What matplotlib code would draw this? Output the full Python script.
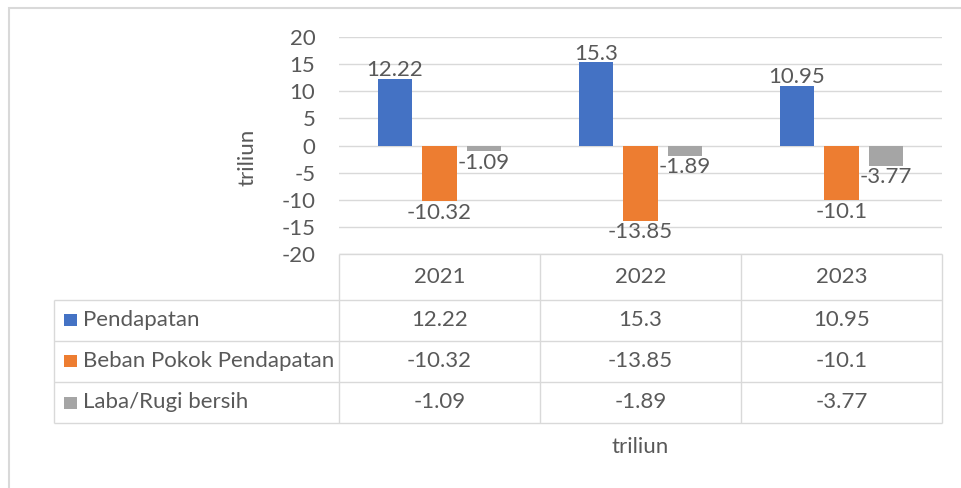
import numpy as np
import matplotlib
matplotlib.use('Agg')
import matplotlib.pyplot as plt
from matplotlib.patches import Rectangle

# data (triliun)
years = ['2021', '2022', '2023']
series = ['Pendapatan', 'Beban Pokok Pendapatan', 'Laba/Rugi bersih']
pendapatan = [12.22, 15.3, 10.95]
beban_pokok = [-10.32, -13.85, -10.1]
laba_rugi = [-1.09, -1.89, -3.77]
colors = ['#4472C4', '#ED7D31', '#A5A5A5']

plt.rcParams['font.family'] = ['Lato', 'DejaVu Sans']
plt.rcParams['axes.unicode_minus'] = False
txt_c = '#595959'
grid_c = '#D9D9D9'
fs = 16

W, H = 962, 488
fig = plt.figure(figsize=(W / 100, H / 100), dpi=100)


def box(l, t, r, b):
    # pixel box -> figure fraction [left, bottom, width, height]
    return [l / W, 1 - b / H, (r - l) / W, (b - t) / H]


# layout in pixels
plot_l, plot_r, plot_t, plot_b = 339, 942, 37, 254
tab_l = 54
head_h, row_h = 46, 41

ax = fig.add_axes(box(plot_l, plot_t, plot_r, plot_b))
values = [pendapatan, beban_pokok, laba_rugi]
x = np.arange(len(years))
bw = 0.174
step = 0.2214
for i, (name, vals, c) in enumerate(zip(series, values, colors)):
    xs = x + (i - 1) * step
    ax.bar(xs, vals, bw, color=c, label=name, zorder=2)
    for xi, v in zip(xs, vals):
        ax.annotate(f'{v:g}', (xi, v), xytext=(0, 2 if v > 0 else -1),
                    textcoords='offset points', ha='center',
                    va='baseline' if v > 0 else 'top', fontsize=fs, color=txt_c,
                    zorder=3)

ax.set_xlim(-0.5, len(years) - 0.5)
ax.set_ylim(-20, 20)
ax.set_yticks(range(-20, 21, 5))
ax.set_xticks([])
ax.grid(axis='y', color=grid_c, lw=1.0, zorder=0)
for s in ax.spines.values():
    s.set_visible(False)
ax.tick_params(axis='y', length=0, pad=17, labelsize=fs, labelcolor=txt_c)

# data table under the plot, drawn in pixel units
col_w = (plot_r - plot_l) / len(years)
xe = [tab_l, plot_l] + [plot_l + col_w * (k + 1) for k in range(len(years))]
ye = [plot_b, plot_b + head_h] + [plot_b + head_h + row_h * (k + 1) for k in range(len(series))]
tax = fig.add_axes(box(tab_l, plot_b, plot_r, ye[-1]))
tax.set_xlim(tab_l, plot_r)
tax.set_ylim(ye[-1], plot_b)
tax.axis('off')
kw = dict(color=grid_c, lw=1.0, clip_on=False)
tax.hlines(ye[0], plot_l, plot_r, **kw)
tax.hlines(ye[1:], tab_l, plot_r, **kw)
tax.vlines(xe[0], ye[1], ye[-1], **kw)
tax.vlines(xe[1:], ye[0], ye[-1], **kw)

xc = [(xe[k + 1] + xe[k + 2]) / 2 for k in range(len(years))]
yc_head = (ye[0] + ye[1]) / 2
for j, yr in enumerate(years):
    tax.text(xc[j], yc_head, yr, ha='center', va='center', fontsize=fs, color=txt_c)
for i, (name, vals, c) in enumerate(zip(series, values, colors)):
    yc = (ye[i + 1] + ye[i + 2]) / 2
    tax.add_patch(Rectangle((tab_l + 10, yc - 6), 13, 12, color=c, lw=0, clip_on=False))
    tax.text(tab_l + 29, yc, name, ha='left', va='center', fontsize=fs, color=txt_c)
    for j, v in enumerate(vals):
        tax.text(xc[j], yc, f'{v:g}', ha='center', va='center', fontsize=fs, color=txt_c)

fig.text(248 / W, 1 - 157 / H, 'triliun', rotation=90, ha='center', va='center',
         fontsize=fs, color=txt_c)
fig.text((plot_l + plot_r) / 2 / W, 1 - 447 / H, 'triliun', ha='center', va='center',
         fontsize=fs, color=txt_c)

# chart area border
fig.patches.append(Rectangle((9 / W, -1), 2, 2 - 8 / H, transform=fig.transFigure,
                             fill=False, edgecolor=grid_c, lw=1.5))

fig.savefig('out.png', dpi=100, facecolor='white')
